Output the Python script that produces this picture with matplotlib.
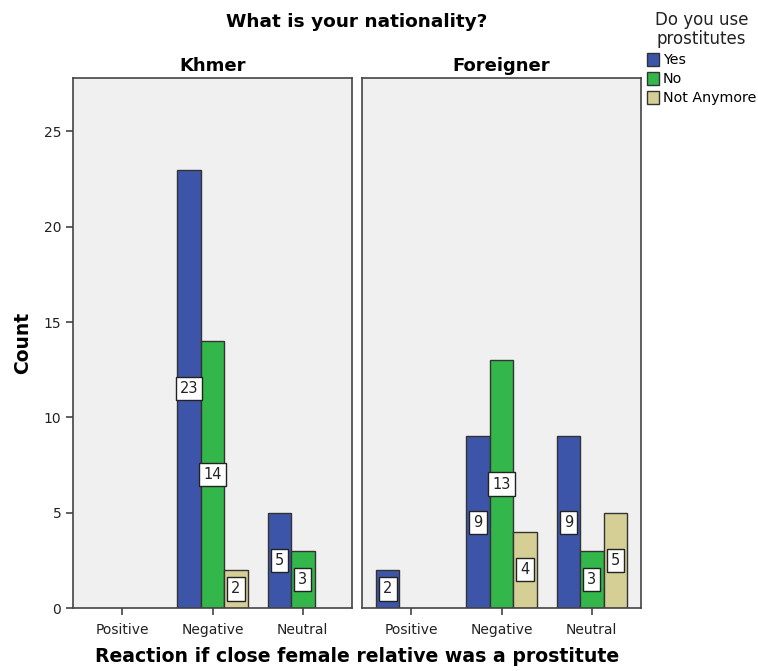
import matplotlib
matplotlib.use("Agg")
import matplotlib.pyplot as plt
import numpy as np
from matplotlib.patches import Patch

categories = ["Positive", "Negative", "Neutral"]
panels = ["Khmer", "Foreigner"]
series = ["Yes", "No", "Not Anymore"]
values = {
    "Khmer": {"Yes": [0, 23, 5], "No": [0, 14, 3], "Not Anymore": [0, 2, 0]},
    "Foreigner": {"Yes": [2, 9, 9], "No": [0, 13, 3], "Not Anymore": [0, 4, 5]},
}
colors = {"Yes": "#3D55A8", "No": "#33B74A", "Not Anymore": "#D5CF96"}
yticks = [0, 5, 10, 15, 20, 25]

plt.rcParams['font.family'] = ['DejaVu Sans']
fig = plt.figure(figsize=(7.58, 6.71), dpi=100)
W, H = 758, 671

def ax_rect(x0, x1, y0, y1):
    return [x0 / W, 1 - y1 / H, (x1 - x0) / W, (y1 - y0) / H]

axes = [fig.add_axes(ax_rect(73, 352, 78, 608)), fig.add_axes(ax_rect(362, 641, 78, 608))]
bw = 0.26
x = np.arange(len(categories))
edge = "#333333"
for i, (ax, p) in enumerate(zip(axes, panels)):
    ax.set_facecolor("#F0F0F0")
    for j, s in enumerate(series):
        vals = np.array(values[p][s])
        xs = x + (j - 1) * bw
        mask = vals > 0
        ax.bar(xs[mask], vals[mask], width=bw, color=colors[s], edgecolor=edge, linewidth=1.0, zorder=2)
        for xv, v in zip(xs[mask], vals[mask]):
            ax.text(xv, v / 2, str(v), ha="center", va="center", fontsize=10.5, color="#222222", zorder=3,
                    bbox=dict(boxstyle="square,pad=0.28", facecolor="white", edgecolor="#222222", linewidth=1.0))
    ax.set_xlim(-0.545, 2.545)
    ax.set_ylim(0, 27.8)
    ax.set_xticks(x)
    ax.set_xticklabels(categories, fontsize=10, color="#222222")
    ax.set_title(p, fontsize=13, fontweight="bold", pad=5)
    for sp in ax.spines.values():
        sp.set_color("#444444")
        sp.set_linewidth(1.2)
    ax.tick_params(axis="x", length=5, width=1.2, color="#444444", pad=6)
    if i == 0:
        ax.set_yticks(yticks)
        ax.set_yticklabels([str(t) for t in yticks], fontsize=10, color="#222222")
        ax.tick_params(axis="y", length=5, width=1.2, color="#444444")
        ax.set_ylabel("Count", fontsize=13.5, fontweight="bold", labelpad=8)
    else:
        ax.set_yticks([])

fig.text(357 / W, 1 - 22 / H, "What is your nationality?", ha="center", va="center", fontsize=13.3, fontweight="bold")
fig.text(357 / W, 1 - 657 / H, "Reaction if close female relative was a prostitute", ha="center", va="center",
         fontsize=13.6, fontweight="bold")

handles = [Patch(facecolor=colors[s], edgecolor=edge, label=s) for s in series]
leg = fig.legend(handles=handles, loc="upper left", bbox_to_anchor=(637 / W, 1 - 1 / H), frameon=False,
                 title="Do you use\nprostitutes", fontsize=10.3, title_fontsize=12,
                 handlelength=0.85, handleheight=1.1, handletextpad=0.25, labelspacing=0.3, borderpad=0.2)
leg.get_title().set_multialignment("center")
leg.get_title().set_linespacing(1.1)
leg.get_title().set_color("#222222")

fig.savefig("out.png", dpi=100)
